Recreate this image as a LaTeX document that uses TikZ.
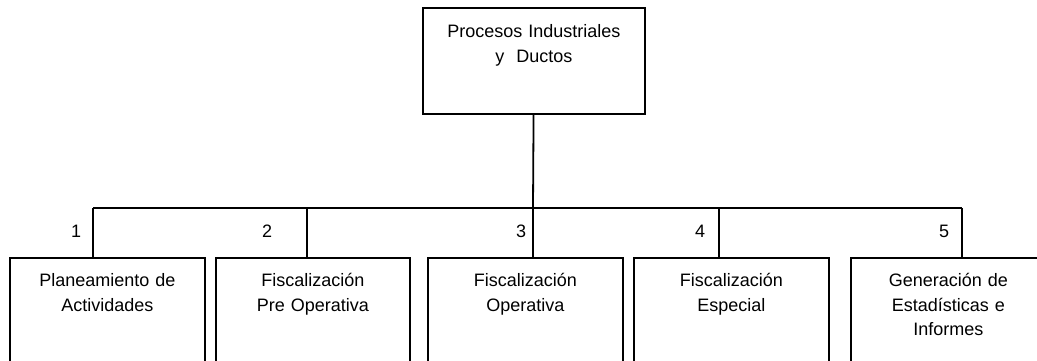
\documentclass[tikz,border=0pt]{standalone}
\usepackage{fontspec}
\setmainfont{Liberation Sans}
\tikzset{every picture/.style={line width=1.8pt}}
\tikzset{
  unitbox/.style={draw, inner sep=0pt, anchor=north west, align=center, font=\fontsize{18}{24.5}\selectfont},
  numtxt/.style={inner sep=0pt, anchor=base east, font=\fontsize{18}{24.5}\selectfont}
}

\begin{document}
\begin{tikzpicture}[x=1pt,y=1pt,yscale=-1,xscale=1]
\useasboundingbox (0,0) rectangle (1037,361);

%Shape: Rectangle [top unit]
\node [unitbox, text width=222pt, text height=30pt, text depth=76pt] (proc) at (422,7) {Procesos Industriales\\y~~Ductos};

%Shape: Rectangle [units]
\node [unitbox, text width=195pt, text height=29pt, text depth=120pt] (plan) at (9,257) {Planeamiento de\\Actividades};
\node [unitbox, text width=194pt, text height=29pt, text depth=120pt] (fpre) at (215,257) {Fiscalización\\Pre Operativa};
\node [unitbox, text width=195pt, text height=29pt, text depth=120pt] (fope) at (427,257) {Fiscalización\\Operativa};
\node [unitbox, text width=195pt, text height=29pt, text depth=120pt] (fesp) at (633,257) {Fiscalización\\Especial};
\node [unitbox, text width=195pt, text height=29pt, text depth=120pt] (gest) at (850,257) {Generación de\\Estadísticas e\\Informes};

%Coordinates on the bus
\coordinate (j1) at (93,208);
\coordinate (j2) at (307,208);
\coordinate (j3) at (533,208);
\coordinate (j4) at (719,208);
\coordinate (j5) at (962,208);

%Straight Lines
\draw (proc) -- (j3) ;
\draw (j1) -- (j5) ;
\draw (j1) -- (j1 |- plan.north) ;
\draw (j2) -- (j2 |- fpre.north) ;
\draw (j3) -- (j3 |- fope.north) ;
\draw (j4) -- (j4 |- fesp.north) ;
\draw (j5) -- (j5 |- gest.north) ;

% Text Node
\node [numtxt] (n1) at (82,237) {1};
% Text Node
\node [numtxt] (n2) at (273,237) {2};
% Text Node
\node [numtxt] (n3) at (527,237) {3};
% Text Node
\node [numtxt] (n4) at (706,237) {4};
% Text Node
\node [numtxt] (n5) at (950,237) {5};

\end{tikzpicture}
\end{document}
